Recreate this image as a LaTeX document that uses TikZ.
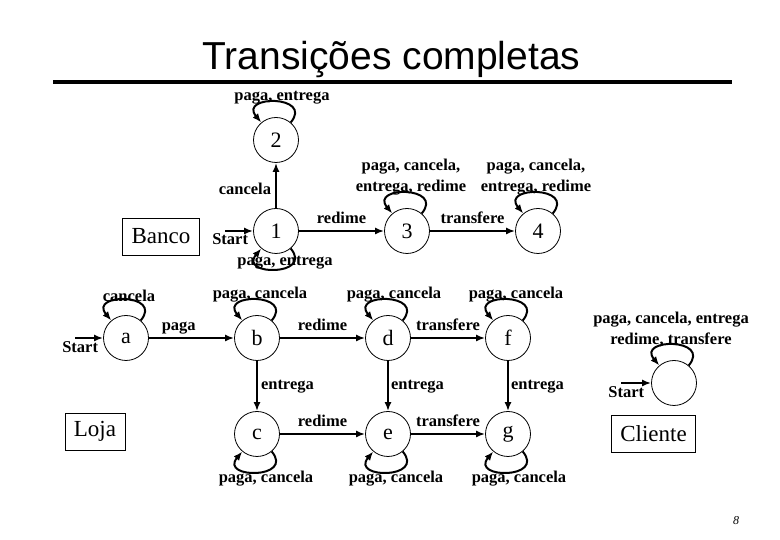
\documentclass[tikz,border=0pt]{standalone}
\usepackage{fontspec}
\setmainfont{Liberation Serif}
\newfontfamily\titlefont{Liberation Sans}
\usetikzlibrary{arrows.meta,positioning}

\begin{document}
\begin{tikzpicture}[on grid,
  every node/.style={font=\fontsize{16.5}{20.5}\selectfont\bfseries},
  stnode/.style={circle, draw, line width=0.8pt, minimum size=45pt, inner sep=0pt,
                 font=\fontsize{22}{26}\selectfont},
  box/.style={rectangle, draw, line width=0.8pt, minimum height=37pt, inner xsep=9pt,
              font=\fontsize{23}{27}\selectfont},
  arrow/.style={-{Latex[length=9pt,width=7pt]}, line width=2pt},
  loopup/.style={out=50, in=130, min distance=36pt, max distance=36pt},
  loopdown/.style={out=-50, in=-130, min distance=36pt, max distance=36pt},
  lbl/.style={text depth=0.25em, inner sep=4pt},
  toplbl/.style={anchor=south, inner sep=0pt, yshift=-3pt, align=center},
  botlbl/.style={anchor=north, inner sep=0pt, yshift=2pt}]
  \useasboundingbox (0pt,0pt) rectangle (780pt,540pt);
  \node[font=\titlefont\fontsize{39}{45}\selectfont, anchor=base] (title) at (391.5pt,470pt) {Transições completas};
  \draw[line width=4pt] (53pt,457.5pt) -- (732pt,457.5pt);

  \node[stnode] (n1) at (276pt,309pt) {1};
  \node[stnode, above=91pt of n1] (n2) {2};
  \node[stnode, right=131pt of n1] (n3) {3};
  \node[stnode, right=131pt of n3] (n4) {4};
  \node[box, below left=5.5pt and 115pt of n1] (banco) {Banco};
  \coordinate[left=28pt of n1.west] (s1);
  \draw[arrow] (s1) -- node[pos=0.18, below, inner sep=1.5pt] {Start} (n1);
  \draw[arrow] (n1) -- node[lbl, left, pos=0.4] {cancela} (n2);
  \draw[arrow] (n2) to[loopup] node[toplbl, xshift=6pt] {paga, entrega} (n2);
  \draw[arrow] (n1) to[loopdown] node[botlbl, xshift=9pt, yshift=12pt] {paga, entrega} (n1);
  \draw[arrow] (n1) -- node[lbl, above] {redime} (n3);
  \draw[arrow] (n3) to[loopup] node[toplbl, xshift=4pt] {paga, cancela,\\entrega, redime} (n3);
  \draw[arrow] (n3) -- node[lbl, above] {transfere} (n4);
  \draw[arrow] (n4) to[loopup] node[toplbl, xshift=-2pt] {paga, cancela,\\entrega, redime} (n4);

  \node[stnode] (a) at (126pt,202pt) {a};
  \node[stnode, right=131pt of a] (b) {b};
  \node[stnode, right=131pt of b] (d) {d};
  \node[stnode, right=120pt of d] (f) {f};
  \node[stnode, below=96pt of b] (c) {c};
  \node[stnode, below=96pt of d] (e) {e};
  \node[stnode, below=96pt of f] (g) {g};
  \node[box, below left=93.5pt and 31pt of a] (loja) {Loja};
  \coordinate[left=28pt of a.west] (s2);
  \draw[arrow] (s2) -- node[pos=0.18, below, inner sep=3pt] {Start} (a);
  \draw[arrow] (a) to[loopup] node[toplbl, xshift=3pt] {cancela} (a);
  \draw[arrow] (a) -- node[lbl, above, pos=0.35] {paga} (b);
  \draw[arrow] (b) to[loopup] node[toplbl, xshift=3pt] {paga, cancela} (b);
  \draw[arrow] (b) -- node[lbl, above] {redime} (d);
  \draw[arrow] (b) -- node[lbl, right, inner sep=3pt] {entrega} (c);
  \draw[arrow] (d) to[loopup] node[toplbl, xshift=6pt] {paga, cancela} (d);
  \draw[arrow] (d) -- node[lbl, above] {transfere} (f);
  \draw[arrow] (d) -- node[lbl, right, inner sep=2pt] {entrega} (e);
  \draw[arrow] (f) to[loopup] node[toplbl, xshift=8pt] {paga, cancela} (f);
  \draw[arrow] (f) -- node[lbl, right, inner sep=2pt] {entrega} (g);
  \draw[arrow] (c) to[loopdown] node[botlbl, xshift=9pt] {paga, cancela} (c);
  \draw[arrow] (c) -- node[lbl, above] {redime} (e);
  \draw[arrow] (e) to[loopdown] node[botlbl, xshift=8pt] {paga, cancela} (e);
  \draw[arrow] (e) -- node[lbl, above] {transfere} (g);
  \draw[arrow] (g) to[loopdown] node[botlbl, xshift=11pt] {paga, cancela} (g);

  \node[stnode] (cl) at (674pt,157pt) {};
  \coordinate[left=30pt of cl.west] (s3);
  \draw[arrow] (s3) -- node[pos=0.17, below, inner sep=3pt] {Start} (cl);
  \draw[arrow] (cl) to[loopup] node[toplbl, xshift=-3pt] {paga, cancela, entrega\\redime, transfere} (cl);
  \node[box, below left=51pt and 20.5pt of cl] (cliente) {Cliente};

  \node[font=\fontsize{12}{14}\selectfont\itshape] (pg) at (736pt,19pt) {8};
\end{tikzpicture}
\end{document}
